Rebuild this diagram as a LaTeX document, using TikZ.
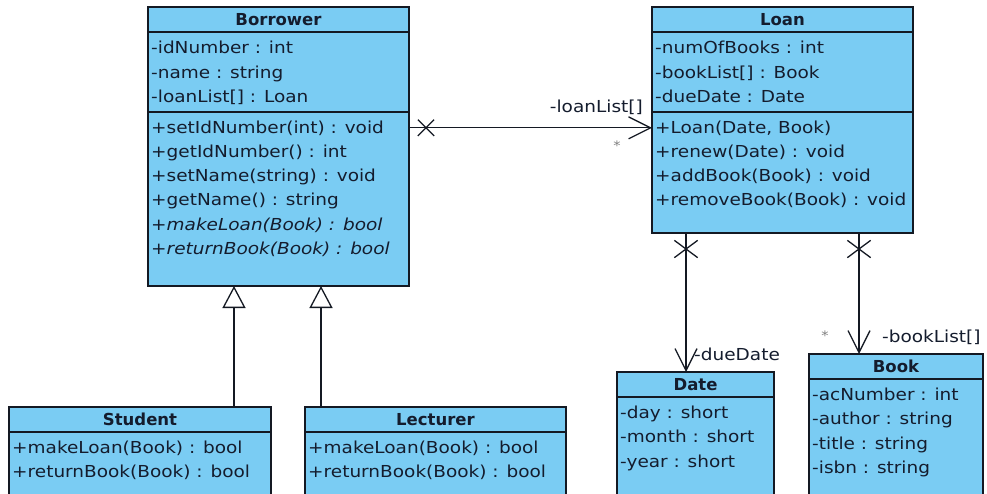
\documentclass[tikz,border=0pt]{standalone}
\usepackage{fontspec}
\setmainfont{DejaVu Sans}[FakeStretch=1.12,BoldFeatures={FakeStretch=1.0}]
\usetikzlibrary{arrows.meta,shapes.misc}
\definecolor{boxfill}{RGB}{122,204,243}
\definecolor{txtc}{RGB}{20,28,45}
\definecolor{linec}{RGB}{20,25,35}
\begin{document}
\begin{tikzpicture}[x=1pt,y=-1pt,
  font=\fontsize{16.5pt}{20pt}\selectfont,
  cls/.style={draw=linec,line width=1.5pt,fill=boxfill,rectangle,inner sep=0pt,outer sep=0pt,anchor=north west},
  sepline/.style={draw=linec,line width=1.5pt},
  ttl/.style={font=\fontsize{16.5pt}{20pt}\selectfont\bfseries,text=txtc,anchor=base,inner sep=0pt},
  mem/.style={text=txtc,anchor=base west,inner sep=0pt},
  assoc/.style={draw=linec,line width=1.3pt},
  nav/.style={assoc,-{Straight Barb[length=22pt,width=22pt]}},
  gen/.style={assoc,-{Triangle[open,length=22pt,width=23pt,fill=white]}},
  xmark/.style={draw=linec,line width=1.3pt,cross out,inner sep=0pt,minimum width=15pt,minimum height=15pt},
  vxmark/.style={xmark,minimum width=22pt,minimum height=16pt},
  lbl/.style={text=txtc,inner sep=0pt},
  star/.style={text=gray,inner sep=0pt,font=\fontsize{13pt}{14pt}\selectfont},
]
\useasboundingbox (0,0) rectangle (987,493);
\clip (0,0) rectangle (987,493);
\fill[white] (0,0) rectangle (987,493);

% Borrower
\node[cls,minimum width=261pt,minimum height=279pt] (borrower) at (148,7) {};
\draw[sepline] ([yshift=-25pt]borrower.north west) -- ([yshift=-25pt]borrower.north east);
\draw[sepline] ([yshift=-105pt]borrower.north west) -- ([yshift=-105pt]borrower.north east);
\node[ttl] (bt) at (278.5,25) {Borrower};
\node[mem] (ba1) at (151,53.5) {-idNumber : int};
\node[mem] (ba2) at (151,78) {-name : string};
\node[mem] (ba3) at (151,102) {-loanList[] : Loan};
\node[mem] (bm1) at (151,133) {+setIdNumber(int) : void};
\node[mem] (bm2) at (151,157.3) {+getIdNumber() : int};
\node[mem] (bm3) at (151,181.6) {+setName(string) : void};
\node[mem] (bm4) at (151,205.9) {+getName() : string};
\node[mem] (bm5) at (151,230.2) {\itshape +makeLoan(Book) : bool};
\node[mem] (bm6) at (151,254.5) {\itshape +returnBook(Book) : bool};

% Loan
\node[cls,minimum width=261pt,minimum height=226pt] (loan) at (652,7) {};
\draw[sepline] ([yshift=-25pt]loan.north west) -- ([yshift=-25pt]loan.north east);
\draw[sepline] ([yshift=-105pt]loan.north west) -- ([yshift=-105pt]loan.north east);
\node[ttl] (lt) at (782.5,25) {Loan};
\node[mem] (la1) at (655,53.5) {-numOfBooks : int};
\node[mem] (la2) at (655,78) {-bookList[] : Book};
\node[mem] (la3) at (655,102) {-dueDate : Date};
\node[mem] (lm1) at (655,133) {+Loan(Date, Book)};
\node[mem] (lm2) at (655,157.3) {+renew(Date) : void};
\node[mem] (lm3) at (655,181.6) {+addBook(Book) : void};
\node[mem] (lm4) at (655,205.9) {+removeBook(Book) : void};

% Date
\node[cls,minimum width=157pt,minimum height=130pt] (date) at (617,372) {};
\draw[sepline] ([yshift=-25pt]date.north west) -- ([yshift=-25pt]date.north east);
\node[ttl] (dt) at (695.5,390) {Date};
\node[mem] (da1) at (620,418) {-day : short};
\node[mem] (da2) at (620,442.5) {-month : short};
\node[mem] (da3) at (620,467) {-year : short};

% Book
\node[cls,minimum width=174pt,minimum height=150pt] (book) at (809,354) {};
\draw[sepline] ([yshift=-25pt]book.north west) -- ([yshift=-25pt]book.north east);
\node[ttl] (kt) at (896,372) {Book};
\node[mem] (ka1) at (812,400) {-acNumber : int};
\node[mem] (ka2) at (812,424.5) {-author : string};
\node[mem] (ka3) at (812,449) {-title : string};
\node[mem] (ka4) at (812,473.5) {-isbn : string};

% Student
\node[cls,minimum width=262pt,minimum height=95pt] (student) at (9,407) {};
\draw[sepline] ([yshift=-25pt]student.north west) -- ([yshift=-25pt]student.north east);
\node[ttl] (st) at (140,425) {Student};
\node[mem] (sm1) at (12,453) {+makeLoan(Book) : bool};
\node[mem] (sm2) at (12,477.5) {+returnBook(Book) : bool};

% Lecturer
\node[cls,minimum width=261pt,minimum height=95pt] (lecturer) at (305,407) {};
\draw[sepline] ([yshift=-25pt]lecturer.north west) -- ([yshift=-25pt]lecturer.north east);
\node[ttl] (ct) at (435.5,425) {Lecturer};
\node[mem] (cm1) at (308,453) {+makeLoan(Book) : bool};
\node[mem] (cm2) at (308,477.5) {+returnBook(Book) : bool};

% Borrower -> Loan
\draw[nav] (borrower.east |- lm1.center) -- (loan.west |- lm1.center);
\node[xmark] (x1) at ([xshift=17pt]borrower.east |- lm1.center) {};
\node[lbl,anchor=base east] (l1) at (643,112) {-loanList[]};
\node[star] (s1) at (617,146) {*};

% Loan -> Date
\coordinate (dd) at ([xshift=-9.5pt]date.north);
\draw[nav] (dd |- loan.south) -- (dd);
\node[vxmark] (x2) at ([yshift=-16pt]dd |- loan.south) {};
\node[lbl,anchor=base west] (l2) at (694,360) {-dueDate};

% Loan -> Book
\coordinate (bb) at ([xshift=-37pt]book.north);
\draw[nav] (bb |- loan.south) -- (bb);
\node[vxmark] (x3) at ([yshift=-16pt]bb |- loan.south) {};
\node[lbl,anchor=base west] (l3) at (882,342) {-bookList[]};
\node[star] (s3) at (825,336) {*};

% Generalizations
\coordinate (g1) at ([xshift=94pt]student.north);
\draw[gen] (g1) -- (g1 |- borrower.south);
\coordinate (g2) at ([xshift=-114.5pt]lecturer.north);
\draw[gen] (g2) -- (g2 |- borrower.south);
\end{tikzpicture}
\end{document}
